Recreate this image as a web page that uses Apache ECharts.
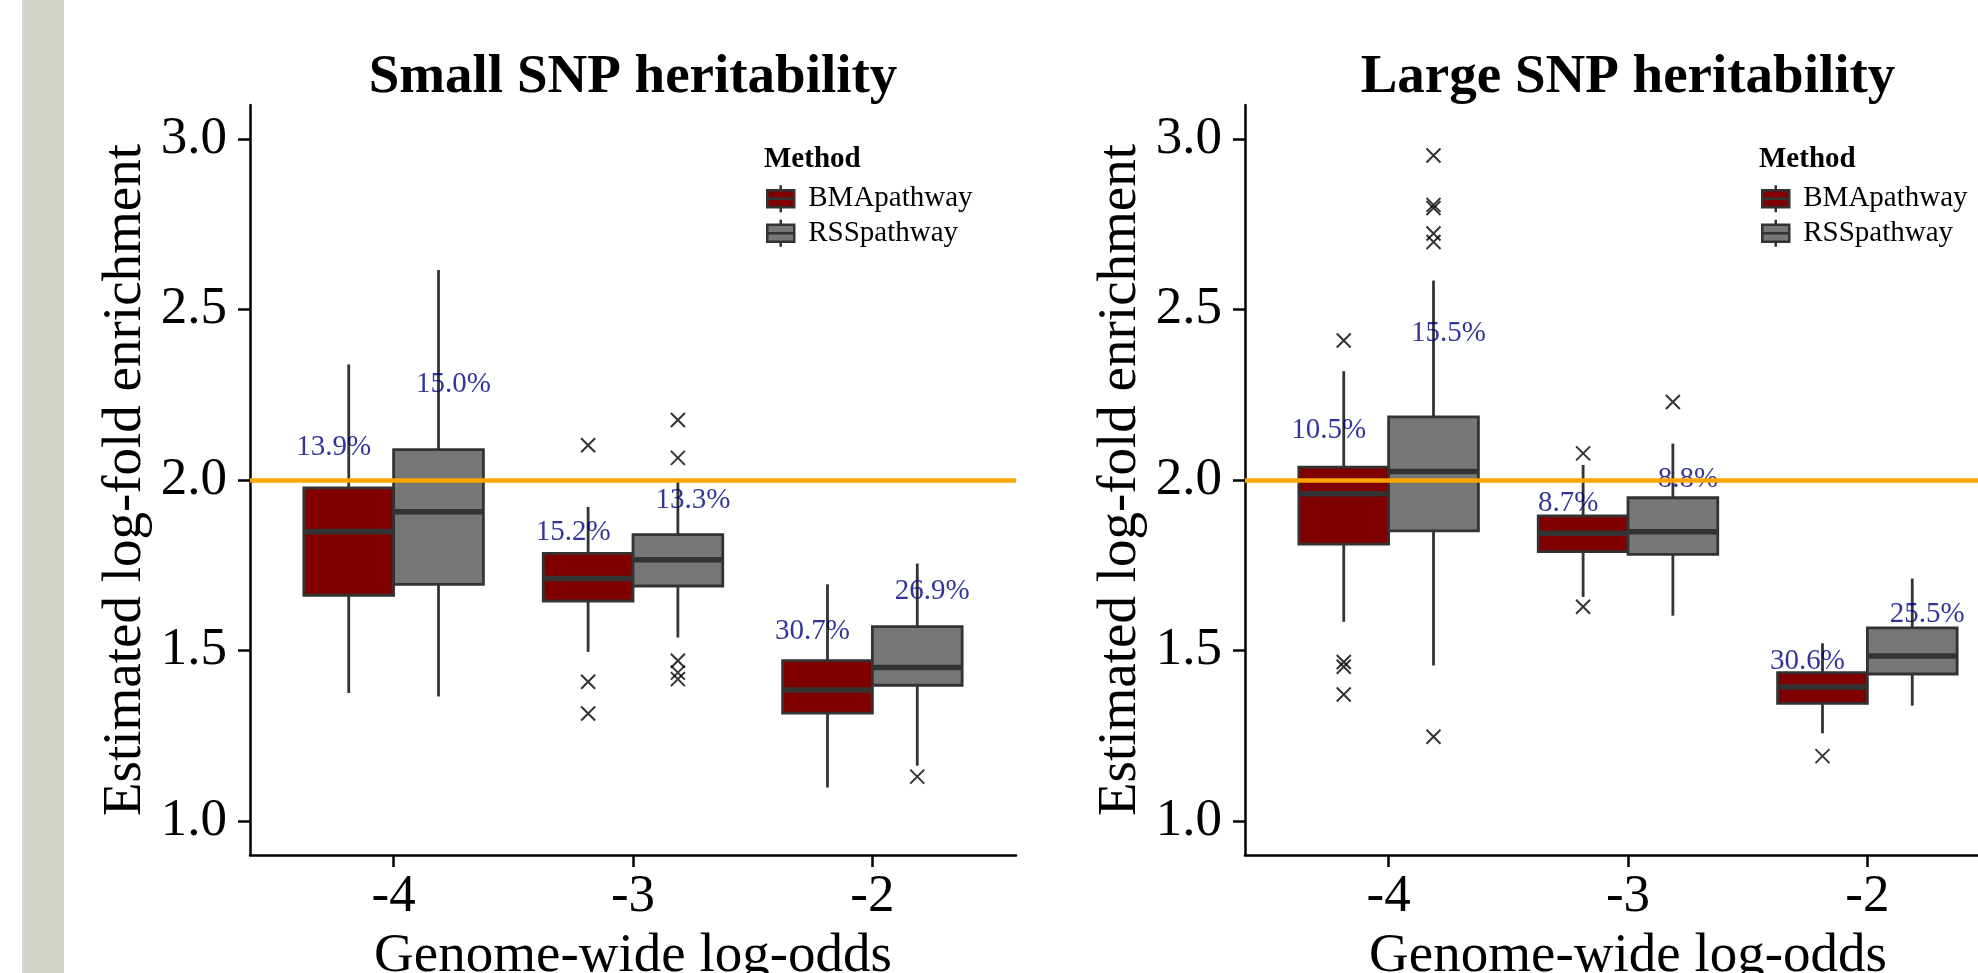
<!DOCTYPE html>
<html>
<head>
<meta charset="utf-8">
<script src="https://cdn.jsdelivr.net/npm/echarts@6/dist/echarts.min.js"></script>
<style>
  html, body { margin: 0; padding: 0; background: #fff; }
  #chart { width: 1978px; height: 973px; }
</style>
</head>
<body>
<div id="chart"></div>
<script>
// genome-wide log-odds groups
var groups = [-4, -3, -2];
var methods = ['BMApathway', 'RSSpathway'];

// box stats per group: [lower whisker, Q1, median, Q3, upper whisker]
var smallBMA = [
  [1.375, 1.662, 1.849, 1.977, 2.339],
  [1.496, 1.645, 1.711, 1.785, 1.921],
  [1.098, 1.316, 1.384, 1.470, 1.694]
];
var smallRSS = [
  [1.365, 1.694, 1.907, 2.089, 2.616],
  [1.538, 1.689, 1.766, 1.840, 2.004],
  [1.162, 1.398, 1.450, 1.570, 1.755]
];
var largeBMA = [
  [1.584, 1.812, 1.960, 2.038, 2.319],
  [1.657, 1.790, 1.844, 1.895, 2.044],
  [1.257, 1.345, 1.393, 1.435, 1.521]
];
var largeRSS = [
  [1.456, 1.851, 2.025, 2.185, 2.585],
  [1.602, 1.782, 1.848, 1.948, 2.107],
  [1.338, 1.431, 1.484, 1.566, 1.711]
];

// outliers per group
var smallBMAOut = [[], [2.102, 1.408, 1.315], []];
var smallRSSOut = [[], [2.176, 2.065, 1.470, 1.435, 1.416], [1.130]];
var largeBMAOut = [[2.409, 1.466, 1.452, 1.371], [2.078, 1.628], [1.190]];
var largeRSSOut = [[2.952, 2.807, 2.798, 2.723, 2.698, 1.247], [2.229], []];

// percentage annotations and their heights
var smallBMALabels = ['13.9%', '15.2%', '30.7%'];
var smallBMALabelY = [2.095, 1.846, 1.555];
var smallRSSLabels = ['15.0%', '13.3%', '26.9%'];
var smallRSSLabelY = [2.280, 1.941, 1.673];
var largeBMALabels = ['10.5%', '8.7%', '30.6%'];
var largeBMALabelY = [2.145, 1.931, 1.468];
var largeRSSLabels = ['15.5%', '8.8%', '25.5%'];
var largeRSSLabelY = [2.429, 2.002, 1.606];

var refLine = 2.0;

var serif = 'Liberation Serif';
var colors = {BMApathway: '#800000', RSSpathway: '#777777'};
var dodge = 0.1875;     // ggplot dodge offset
var boxWidth = 0.375;
var labelDodge = 0.25;

var makeBoxRender = function(fill) {
  return function(params, api) {
    var x = api.value(0);
    var lo = api.value(1), q1 = api.value(2), med = api.value(3), q3 = api.value(4), hi = api.value(5);
    var hw = boxWidth / 2;
    var tl = api.coord([x - hw, q3]);
    var br = api.coord([x + hw, q1]);
    var c = function(v) { return api.coord([x, v]); };
    var ml = api.coord([x - hw, med]);
    var mr = api.coord([x + hw, med]);
    var lineStyle = {stroke: '#333333', lineWidth: 2.8};
    return {
      type: 'group',
      children: [
        {type: 'line', shape: {x1: c(hi)[0], y1: c(hi)[1], x2: c(q3)[0], y2: c(q3)[1]}, style: lineStyle},
        {type: 'line', shape: {x1: c(lo)[0], y1: c(lo)[1], x2: c(q1)[0], y2: c(q1)[1]}, style: lineStyle},
        {type: 'rect', shape: {x: tl[0], y: tl[1], width: br[0] - tl[0], height: br[1] - tl[1]},
          style: {fill: fill, stroke: '#333333', lineWidth: 2.8}},
        {type: 'line', shape: {x1: ml[0], y1: ml[1], x2: mr[0], y2: mr[1]}, style: {stroke: '#333333', lineWidth: 5.5}}
      ]
    };
  };
};

var boxData = function(stats, offset) {
  return groups.map(function(g, i) { return [g + offset].concat(stats[i]); });
};
var outData = function(outs, offset) {
  var res = [];
  groups.forEach(function(g, i) {
    outs[i].forEach(function(v) { res.push([g + offset, v]); });
  });
  return res;
};
var labelData = function(texts, ys, offset) {
  return groups.map(function(g, i) { return {name: texts[i], value: [g + offset, ys[i]]}; });
};

var crossSymbol = 'path://M0,0L10,10M10,0L0,10';

var panelSeries = function(idx, bma, rss, bmaOut, rssOut, bmaLab, bmaLabY, rssLab, rssLabY) {
  return [
    {
      name: 'BMApathway', type: 'custom', xAxisIndex: idx, yAxisIndex: idx, z: 2,
      itemStyle: {color: colors.BMApathway},
      renderItem: makeBoxRender(colors.BMApathway),
      encode: {x: 0, y: [1, 2, 3, 4, 5]},
      data: boxData(bma, -dodge)
    },
    {
      name: 'RSSpathway', type: 'custom', xAxisIndex: idx, yAxisIndex: idx, z: 2,
      itemStyle: {color: colors.RSSpathway},
      renderItem: makeBoxRender(colors.RSSpathway),
      encode: {x: 0, y: [1, 2, 3, 4, 5]},
      data: boxData(rss, dodge)
    },
    {
      type: 'scatter', xAxisIndex: idx, yAxisIndex: idx, z: 3, silent: true,
      symbol: crossSymbol, symbolSize: 14,
      itemStyle: {color: 'none', borderColor: '#000', borderWidth: 2},
      data: outData(bmaOut, -dodge).concat(outData(rssOut, dodge))
    },
    {
      type: 'scatter', xAxisIndex: idx, yAxisIndex: idx, z: 4, silent: true,
      symbolSize: 0,
      label: {show: true, position: 'inside', formatter: '{b}', color: '#000080',
        fontFamily: serif, fontSize: 29},
      data: labelData(bmaLab, bmaLabY, -labelDodge).concat(labelData(rssLab, rssLabY, labelDodge)),
      markLine: {
        silent: true, symbol: 'none', z: 10,
        label: {show: false},
        lineStyle: {color: '#FFA500', width: 4.5, type: 'solid'},
        data: [{yAxis: refLine}]
      }
    }
  ];
};

var axisStyle = {lineStyle: {color: '#000', width: 2.5}};

var makeXAxis = function(idx) {
  return {
    gridIndex: idx, type: 'value', min: -4.6, max: -1.4,
    name: 'Genome-wide log-odds', nameLocation: 'middle', nameGap: 73,
    nameTextStyle: {fontFamily: serif, fontSize: 55, color: '#000'},
    axisLine: axisStyle,
    axisTick: {length: 12, lineStyle: {color: '#000', width: 2.5}, customValues: groups},
    axisLabel: {fontFamily: serif, fontSize: 53, color: '#000', margin: 16, customValues: groups,
      formatter: function(v) { return String(v); }},
    splitLine: {show: false}
  };
};
var yTicks = [1.0, 1.5, 2.0, 2.5, 3.0];
var makeYAxis = function(idx) {
  return {
    gridIndex: idx, type: 'value', min: 0.9, max: 3.1,
    name: 'Estimated log-fold enrichment', nameLocation: 'middle', nameGap: 97,
    nameTextStyle: {fontFamily: serif, fontSize: 55, color: '#000'},
    axisLine: axisStyle,
    axisTick: {length: 12, lineStyle: {color: '#000', width: 2.5}, customValues: yTicks},
    axisLabel: {fontFamily: serif, fontSize: 53, color: '#000', margin: 23, customValues: yTicks,
      formatter: function(v) { return v.toFixed(1); }},
    splitLine: {show: false}
  };
};

var legendIcon = 'path://M0,5H27V22H0Z M0,13.5H27 M13.5,0V5 M13.5,22V27';
var makeLegend = function(left) {
  return {
    orient: 'vertical', left: left, top: 184, padding: 0,
    itemWidth: 27, itemHeight: 27, itemGap: 5,
    selectedMode: false,
    textStyle: {fontFamily: serif, fontSize: 29, color: '#000', padding: [0, 0, 0, 9]},
    data: methods.map(function(m) {
      return {name: m, icon: legendIcon,
        itemStyle: {color: colors[m], borderColor: '#333333', borderWidth: 2.5}};
    })
  };
};

var chart = echarts.init(document.getElementById('chart'));
chart.setOption({
  backgroundColor: '#ffffff',
  animation: false,
  title: [
    {text: 'Small SNP heritability', left: 633, top: 50, padding: 0, textAlign: 'center',
      textStyle: {fontFamily: serif, fontSize: 55, fontWeight: 'bold', color: '#000'}},
    {text: 'Large SNP heritability', left: 1628, top: 50, padding: 0, textAlign: 'center',
      textStyle: {fontFamily: serif, fontSize: 55, fontWeight: 'bold', color: '#000'}},
    {text: 'Method', left: 764, top: 145, padding: 0,
      textStyle: {fontFamily: serif, fontSize: 29, fontWeight: 'bold', color: '#000'}},
    {text: 'Method', left: 1759, top: 145, padding: 0,
      textStyle: {fontFamily: serif, fontSize: 29, fontWeight: 'bold', color: '#000'}}
  ],
  legend: [makeLegend(766), makeLegend(1761)],
  graphic: [
    {type: 'rect', left: 22, top: 0, shape: {width: 42, height: 973}, style: {fill: '#d5d5ce'}}
  ],
  grid: [
    {left: 250, top: 105, width: 766, height: 750, outerBoundsMode: 'none'},
    {left: 1245, top: 105, width: 766, height: 750, outerBoundsMode: 'none'}
  ],
  xAxis: [makeXAxis(0), makeXAxis(1)],
  yAxis: [makeYAxis(0), makeYAxis(1)],
  series: panelSeries(0, smallBMA, smallRSS, smallBMAOut, smallRSSOut,
      smallBMALabels, smallBMALabelY, smallRSSLabels, smallRSSLabelY)
    .concat(panelSeries(1, largeBMA, largeRSS, largeBMAOut, largeRSSOut,
      largeBMALabels, largeBMALabelY, largeRSSLabels, largeRSSLabelY))
});
</script>
</body>
</html>
